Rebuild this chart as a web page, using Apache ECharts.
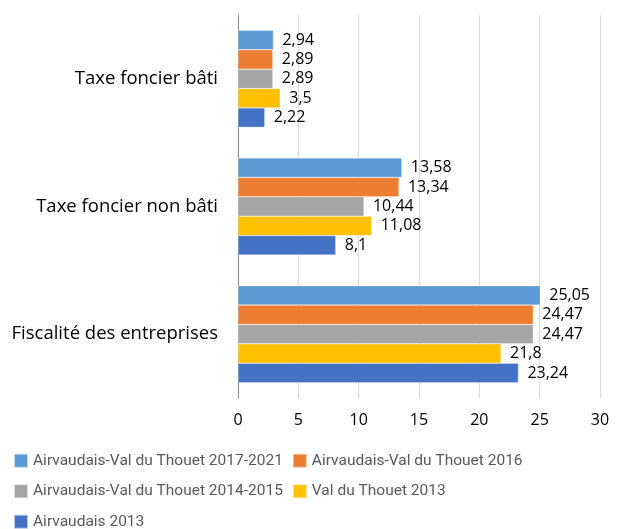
<!DOCTYPE html>
<html>
<head>
<meta charset="utf-8">
<script src="https://cdn.jsdelivr.net/npm/echarts@6/dist/echarts.min.js"></script>
<style>
  html, body { margin: 0; padding: 0; background: #fff; }
  #chart { width: 624px; height: 529px; }
</style>
</head>
<body>
<div id="chart"></div>
<script>
// categories listed bottom-up (ECharts category y axis)
const categories = ['Fiscalité des entreprises', 'Taxe foncier non bâti', 'Taxe foncier bâti'];

const seriesNames = [
  'Airvaudais-Val du Thouet 2017-2021',
  'Airvaudais-Val du Thouet 2016',
  'Airvaudais-Val du Thouet 2014-2015',
  'Val du Thouet 2013',
  'Airvaudais 2013'
];
const colors = ['#5B9BD5', '#ED7D31', '#A5A5A5', '#FFC000', '#4472C4'];

const v2017 = [25.05, 13.58, 2.94];
const v2016 = [24.47, 13.34, 2.89];
const v2014 = [24.47, 10.44, 2.89];
const vValThouet2013 = [21.8, 11.08, 3.5];
const vAirvaudais2013 = [23.24, 8.1, 2.22];
const values = [v2017, v2016, v2014, vValThouet2013, vAirvaudais2013];

const xTicks = [0, 5, 10, 15, 20, 25, 30];

const chart = echarts.init(document.getElementById('chart'));

const series = seriesNames.map((name, i) => ({
  name: name,
  type: 'bar',
  data: values[i],
  barGap: '0%',
  barCategoryGap: '24%',
  itemStyle: { color: colors[i], borderColor: 'rgba(255,255,255,0.6)', borderWidth: 0.5 },
  label: {
    show: true,
    position: 'right',
    distance: 9,
    color: '#000',
    fontFamily: 'Open Sans',
    fontSize: 16,
    formatter: p => String(p.value).replace('.', ',')
  }
}));

chart.setOption({
  animation: false,
  grid: { left: 238, right: 24, top: 15, bottom: 131, containLabel: false },
  xAxis: {
    type: 'value',
    min: xTicks[0],
    max: xTicks[xTicks.length - 1],
    interval: 5,
    axisLine: { show: false },
    axisTick: { show: false },
    splitLine: { lineStyle: { color: '#D9D9D9', width: 1 } },
    axisLabel: { color: '#000', fontFamily: 'Open Sans', fontSize: 16, margin: 14 }
  },
  yAxis: {
    type: 'category',
    data: categories,
    axisLine: { lineStyle: { color: '#868686' } },
    axisTick: { length: 5, lineStyle: { color: '#868686' } },
    axisLabel: { color: '#000', fontFamily: 'Open Sans', fontSize: 18.5, margin: 20 }
  },
  legend: {
    data: seriesNames,
    left: 8,
    top: 445,
    width: 545,
    itemWidth: 14,
    itemHeight: 14,
    itemGap: 9,
    icon: 'rect',
    textStyle: { color: '#595959', fontFamily: 'Roboto', fontSize: 15.5, lineHeight: 21.5 }
  },
  series: series
});
</script>
</body>
</html>
